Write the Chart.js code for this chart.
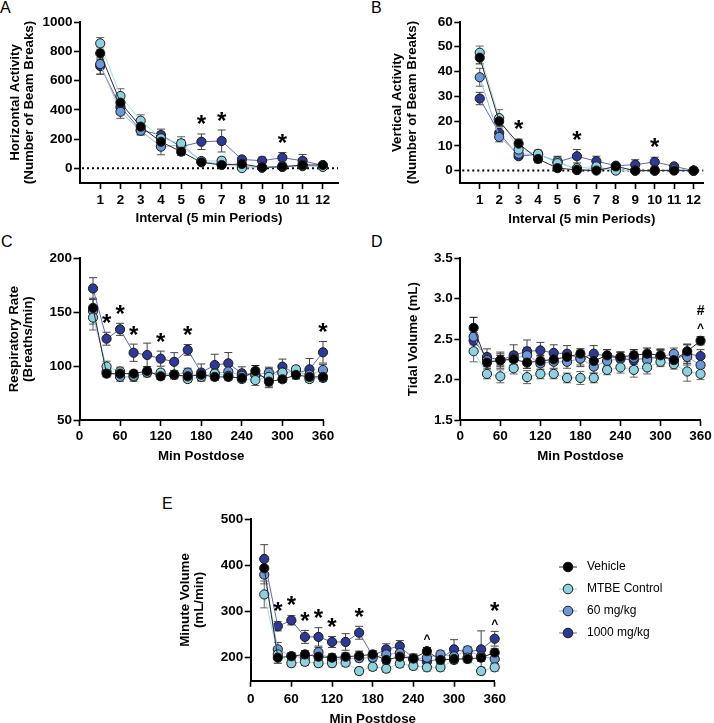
<!DOCTYPE html>
<html><head><meta charset="utf-8">
<script src="https://cdn.jsdelivr.net/npm/chart.js@4/dist/chart.umd.min.js"></script>
<style>
html,body{margin:0;padding:0;background:#fff;overflow:hidden;width:714px;height:723px;}
.pane{position:absolute;}
.letter{position:absolute;font:16px 'Liberation Sans',Arial,sans-serif;color:#000;line-height:16px;}
canvas{display:block;}
</style></head><body>
<div class="letter" style="left:0px;top:0px">A</div>
<div class="letter" style="left:371px;top:0px">B</div>
<div class="letter" style="left:1px;top:234px">C</div>
<div class="letter" style="left:371px;top:234px">D</div>
<div class="letter" style="left:162px;top:496px">E</div>
<canvas id="cA" class="pane" style="left:0;top:0" width="357" height="235"></canvas>
<canvas id="cB" class="pane" style="left:357px;top:0" width="357" height="235"></canvas>
<canvas id="cC" class="pane" style="left:0;top:235px" width="357" height="235"></canvas>
<canvas id="cD" class="pane" style="left:357px;top:235px" width="357" height="235"></canvas>
<canvas id="cE" class="pane" style="left:160px;top:470px" width="554" height="260"></canvas>
<script>
// ---------------- DATA ----------------
const groups = ['Vehicle', 'MTBE Control', '60 mg/kg', '1000 mg/kg'];
const intervals = [1, 2, 3, 4, 5, 6, 7, 8, 9, 10, 11, 12];
const minutes = [20, 40, 60, 80, 100, 120, 140, 160, 180, 200, 220, 240, 260, 280, 300, 320, 340, 360];

const intervalTicks = [1, 2, 3, 4, 5, 6, 7, 8, 9, 10, 11, 12];
const minuteTicks = [0, 60, 120, 180, 240, 300, 360];
const horizTicks = [0, 200, 400, 600, 800, 1000];
const vertTicks = [0, 10, 20, 30, 40, 50, 60];
const respTicks = [50, 100, 150, 200];
const tidalTicks = [1.5, 2.0, 2.5, 3.0, 3.5];
const minVolTicks = [200, 300, 400, 500];

// A: Horizontal activity
const horizVehicle = [786, 449, 285, 182, 114, 41, 23, 30, 7, 11, 23, 23];
const horizMTBE    = [854, 494, 326, 205, 171, 50, 52, 2, 5, 15, 20, 10];
const horiz60      = [713, 387, 257, 148, 160, 46, 30, 15, 5, 10, 15, 15];
const horiz1000    = [699, 420, 262, 228, 148, 182, 187, 61, 52, 73, 52, 20];
const horizVehicleSem = [45, 40, 30, 35, 25, 15, 10, 15, 5, 5, 10, 10];
const horizMTBESem    = [40, 50, 40, 45, 45, 20, 25, 5, 5, 10, 15, 5];
const horiz60Sem      = [70, 45, 30, 55, 35, 15, 15, 10, 5, 10, 10, 10];
const horiz1000Sem    = [55, 50, 30, 40, 45, 53, 75, 20, 25, 35, 43, 10];

// B: Vertical activity
const vertVehicle = [45.6, 19.9, 10.9, 4.7, 1, 0.3, 0, 1.7, 0, 0, 0, 0];
const vertMTBE    = [47.6, 21.2, 8.5, 6.8, 3, 1, 1.7, 0, 0, 0, 0.5, 0];
const vert60      = [37.7, 13.6, 6.8, 6.5, 3.8, 0.2, 1, 0.3, 0, 0, 0.3, 0];
const vert1000    = [29.1, 15.2, 5.8, 6.6, 3.5, 5.8, 3.8, 2, 2.4, 3.5, 1.7, 0];
const vertVehicleSem = [2.5, 1.5, 1.8, 1.5, 0.5, 0.3, 0, 0.8, 0, 0, 0, 0];
const vertMTBESem    = [2.7, 3.4, 1.8, 1.5, 1.5, 0.8, 1, 0, 0, 0, 0.5, 0];
const vert60Sem      = [3.6, 2, 1.3, 1.5, 2, 0.2, 0.8, 0.3, 0, 0, 0.3, 0];
const vert1000Sem    = [2.5, 2, 1, 1.5, 2, 2.7, 2, 0.5, 2, 1.9, 0.8, 0];

// C: Respiratory rate
const respVehicle = [154, 93, 93, 93, 95.5, 90.5, 92, 90.5, 92, 90, 90, 89, 95.5, 85.6, 87.8, 91.8, 90, 90];
const respMTBE    = [145, 99.6, 95, 91, 94, 94, 92, 88, 90, 93, 91, 88, 87, 90, 94, 97, 88, 89];
const resp60      = [151, 95, 90, 90, 94, 92, 92, 94, 91, 93, 95, 91, 92, 94, 94, 95, 92, 96.4];
const resp1000    = [172, 125.4, 134.1, 112.4, 110.3, 106.9, 104, 115, 94, 101, 102.6, 93.3, 92, 89, 99.5, 93, 97, 112.8];
const respVehicleSem = [8, 3, 3, 3, 4, 3, 3, 3, 3, 3, 3, 3, 5, 4, 3, 3, 3, 4];
const respMTBESem    = [11.5, 5, 4, 3, 3, 3, 3, 3, 3, 4, 3, 3, 5, 4, 4, 3, 3, 3];
const resp60Sem      = [12, 4, 4, 4, 4, 4, 4, 4, 4, 6, 5, 4, 5, 5, 6, 4, 5, 5];
const resp1000Sem    = [10, 6, 5.6, 8, 11, 7, 8.5, 5, 8, 10, 10, 6, 6, 9, 7, 5, 10, 10];

// D: Tidal volume
const tidalVehicle = [2.64, 2.21, 2.24, 2.25, 2.21, 2.23, 2.25, 2.28, 2.32, 2.23, 2.30, 2.28, 2.30, 2.32, 2.30, 2.24, 2.35, 2.48];
const tidalMTBE    = [2.35, 2.07, 2.04, 2.14, 2.03, 2.07, 2.07, 2.02, 2.02, 2.02, 2.12, 2.15, 2.12, 2.15, 2.22, 2.19, 2.10, 2.07];
const tidal60      = [2.53, 2.24, 2.24, 2.26, 2.30, 2.20, 2.22, 2.22, 2.26, 2.16, 2.23, 2.26, 2.27, 2.24, 2.28, 2.32, 2.28, 2.18];
const tidal1000    = [2.48, 2.28, 2.24, 2.30, 2.35, 2.36, 2.33, 2.32, 2.26, 2.32, 2.29, 2.26, 2.24, 2.27, 2.28, 2.24, 2.32, 2.29];
const tidalVehicleSem = [0.13, 0.07, 0.06, 0.07, 0.07, 0.07, 0.06, 0.07, 0.06, 0.07, 0.07, 0.06, 0.07, 0.07, 0.07, 0.06, 0.08, 0.05];
const tidalMTBESem    = [0.13, 0.06, 0.08, 0.07, 0.08, 0.06, 0.06, 0.06, 0.08, 0.06, 0.06, 0.07, 0.09, 0.08, 0.06, 0.06, 0.12, 0.07];
const tidal60Sem      = [0.10, 0.08, 0.08, 0.08, 0.10, 0.08, 0.08, 0.08, 0.08, 0.08, 0.07, 0.08, 0.08, 0.08, 0.08, 0.07, 0.10, 0.08];
const tidal1000Sem    = [0.10, 0.10, 0.10, 0.13, 0.14, 0.10, 0.10, 0.10, 0.10, 0.10, 0.08, 0.08, 0.08, 0.08, 0.10, 0.08, 0.12, 0.08];

// E: Minute volume
const mvVehicle = [394, 200, 203, 207, 202, 200, 202, 204, 207, 195, 202, 198, 214, 195, 197, 197, 200, 211];
const mvMTBE    = [337, 207, 188, 191, 188, 188, 189, 171, 180, 176, 187, 182, 179, 179, 195, 200, 171, 179];
const mv60      = [380, 218, 203, 200, 212, 196, 198, 199, 200, 207, 210, 196, 200, 207, 203, 216, 203, 197];
const mv1000    = [414, 268, 281, 245, 245, 234, 234, 254, 204, 218, 225, 198, 191, 198, 218, 212, 218, 241];
const mvVehicleSem = [15, 12, 8, 8, 8, 8, 8, 10, 8, 8, 8, 8, 8, 8, 8, 8, 8, 8];
const mvMTBESem    = [29, 10, 8, 8, 8, 8, 8, 8, 8, 8, 8, 8, 8, 8, 8, 8, 8, 8];
const mv60Sem      = [20, 15, 8, 10, 10, 8, 8, 8, 8, 10, 10, 8, 8, 8, 10, 8, 10, 10];
const mv1000Sem    = [31, 10, 10, 14, 20, 12, 18, 14, 10, 12, 12, 10, 10, 10, 21, 10, 40, 16];

// significance marks (x position, symbols stacked bottom->top)
const marksAx = [6, 7, 10];            const marksAsym = ['*', '*', '*'];
const marksBx = [3, 6, 10];            const marksBsym = ['*', '*', '*'];
const marksCx = [40, 60, 80, 120, 160, 360]; const marksCsym = ['*', '*', '*', '*', '*', '*'];
const marksDx = [360];                 const marksDsym = ['^#'];
const marksEx = [40, 60, 80, 100, 120, 160, 260, 360];
const marksEsym = ['*', '*', '*', '*', '*', '*', '^', '^*'];

// ---------------- STYLE ----------------
const FONT = "'Liberation Sans', Arial, Helvetica, sans-serif";
Chart.defaults.font.family = FONT;
Chart.defaults.color = '#000';
const palette = [
  {fill: '#000000', line: '#2a2a2a', err: '#111111'},
  {fill: '#8dd2de', line: '#a6dde7', err: '#666666'},
  {fill: '#6b98d6', line: '#9ab6e4', err: '#555555'},
  {fill: '#2d3995', line: '#5b69bd', err: '#444444'}
];

const annot = {
  id: 'annot',
  beforeDatasetsDraw(chart, args, opts) {
    const ctx = chart.ctx, a = chart.chartArea, xs = chart.scales.x, ys = chart.scales.y;
    ctx.save();
    if (opts.zeroLine) {
      const y0 = ys.getPixelForValue(0);
      ctx.strokeStyle = '#000'; ctx.lineWidth = 2; ctx.setLineDash([2, 3]);
      ctx.beginPath(); ctx.moveTo(a.left + 2, y0); ctx.lineTo(a.right, y0); ctx.stroke();
      ctx.setLineDash([]);
    }
    chart.data.datasets.forEach(ds => {
      ctx.strokeStyle = ds.errColor; ctx.lineWidth = 1;
      ds.data.forEach((p, j) => {
        const s = ds.sem[j]; if (!s) return;
        const px = xs.getPixelForValue(p.x);
        const yt = ys.getPixelForValue(p.y + s), yb = ys.getPixelForValue(p.y - s);
        ctx.beginPath();
        ctx.moveTo(px, yt); ctx.lineTo(px, yb);
        ctx.moveTo(px - 4, yt); ctx.lineTo(px + 4, yt);
        ctx.moveTo(px - 4, yb); ctx.lineTo(px + 4, yb);
        ctx.stroke();
      });
    });
    ctx.restore();
  },
  afterDatasetsDraw(chart, args, opts) {
    if (!opts.marksX) return;
    const ctx = chart.ctx, xs = chart.scales.x, ys = chart.scales.y;
    ctx.save(); ctx.fillStyle = '#000'; ctx.textAlign = 'center'; ctx.textBaseline = 'alphabetic';
    opts.marksX.forEach((xv, i) => {
      let top = Infinity;
      chart.data.datasets.forEach(ds => ds.data.forEach((p, j) => {
        if (p.x === xv) {
          top = Math.min(top, ys.getPixelForValue(p.y + (ds.sem[j] || 0)), ys.getPixelForValue(p.y) - 5.5);
        }
      }));
      let center = 0;
      [...opts.marksSym[i]].forEach((sym, k) => {
        const star = sym === '*';
        ctx.font = 'bold ' + (star ? 24 : (sym === '#' ? 14 : 12)) + 'px ' + FONT;
        if (k === 0) center = top - (star ? 14 : 9); else center -= 16;
        const m = ctx.measureText(sym);
        const base = center + (m.actualBoundingBoxAscent - m.actualBoundingBoxDescent) / 2;
        ctx.fillText(sym, xs.getPixelForValue(xv), base);
      });
    });
    ctx.restore();
  }
};

function fixedTicks(values) { return function (scale) { scale.ticks = values.map(v => ({value: v})); }; }

function buildPanel(id, p) {
  const datasets = p.series.map((vals, k) => ({
    label: groups[k],
    data: vals.map((v, j) => ({x: p.xs[j], y: v})),
    sem: p.sems[k],
    errColor: palette[k].err,
    xAxisID: 'x', yAxisID: 'y',
    borderColor: palette[k].line, borderWidth: 1,
    pointBackgroundColor: palette[k].fill, pointBorderColor: '#1a1a1a', pointBorderWidth: 1,
    pointRadius: 4.6, pointHoverRadius: 4.6, tension: 0, clip: false
  }));
  const axisCommon = {
    grid: {drawOnChartArea: false, drawTicks: true, tickLength: 6, tickWidth: 1.6, tickColor: '#000', color: '#000'},
    border: {display: true, color: '#000', width: 2}
  };
  const scales = {
    x: Object.assign({}, axisCommon, {
      type: 'linear', position: 'bottom', min: p.xMin, max: p.xMax,
      afterBuildTicks: fixedTicks(p.xTicks),
      afterFit(s) { s.height = p.H - p.area.b; },
      ticks: {font: {size: 13.5, weight: 'bold'}, color: '#000', padding: p.xTickPad, maxRotation: 0, autoSkip: false,
              callback: v => String(v)},
      title: {display: true, text: p.xTitle, color: '#000', font: {size: 13.3, weight: 'bold', lineHeight: 1.1},
              padding: {top: 0, bottom: p.xTitlePad}}
    }),
    y: Object.assign({}, axisCommon, {
      type: 'linear', position: 'left', min: p.yMin, max: p.yMax,
      afterBuildTicks: fixedTicks(p.yTicks),
      afterFit(s) { s.width = p.area.l; },
      ticks: {font: {size: 13.5, weight: 'bold'}, color: '#000', padding: 1.5, autoSkip: false,
              callback: p.fmt || (v => String(v))},
      title: {display: true, text: p.yTitle, color: '#000', font: {size: 13.3, weight: 'bold', lineHeight: 1.1},
              padding: {top: p.yTitlePad, bottom: 0}}
    })
  };
  const plugins = {
    legend: {display: false},
    tooltip: {enabled: false},
    annot: {zeroLine: !!p.zeroLine, marksX: p.marksX, marksSym: p.marksSym}
  };
  let padRight = p.W - p.area.r;
  if (p.legend) {
    const icons = palette.map(c => {
      const cv = document.createElement('canvas'); cv.width = 26; cv.height = 12;
      const g = cv.getContext('2d');
      g.strokeStyle = c.line; g.lineWidth = 1;
      g.beginPath(); g.moveTo(4, 6); g.lineTo(22, 6); g.stroke();
      g.fillStyle = c.fill; g.strokeStyle = '#1a1a1a';
      g.beginPath(); g.arc(13, 6, 4.8, 0, Math.PI * 2); g.fill(); g.stroke();
      return cv;
    });
    plugins.legend = {
      display: true, position: 'right', align: 'center', fullSize: false, maxWidth: 300,
      labels: {
        usePointStyle: true, pointStyleWidth: 26, boxHeight: 12, padding: 10, color: '#000',
        font: {size: 12, family: FONT},
        generateLabels: chart => chart.data.datasets.map((ds, i) => ({
          text: ds.label, pointStyle: icons[i], fillStyle: palette[i].fill, strokeStyle: '#000',
          lineWidth: 0, hidden: false, datasetIndex: i, fontColor: '#000'
        }))
      }
    };
    scales.yR = {
      type: 'linear', position: 'right', display: true, min: 0, max: 1,
      grid: {display: false, drawTicks: false}, border: {display: false}, ticks: {display: false},
      afterFit(s) { s.width = p.legendLeft - p.area.r; }
    };
    padRight = 20;
  }
  const chart = new Chart(document.getElementById(id), {
    type: 'line',
    data: {datasets},
    options: {
      responsive: false, animation: false, devicePixelRatio: 1, events: [],
      layout: {padding: {top: p.area.t, right: padRight, bottom: 0, left: 0}},
      scales, plugins
    },
    plugins: [annot]
  });
  if (p.legend) {
    for (let it = 0; it < 4; it++) {
      const dx = chart.legend.left - p.legendLeft;
      if (Math.abs(dx) < 0.2) break;
      chart.options.layout.padding.right = Math.max(0, chart.options.layout.padding.right + dx);
      chart.update('none');
    }
  }
  return chart;
}

buildPanel('cA', {
  W: 357, H: 235, area: {l: 80, t: 22, r: 338, b: 183},
  xs: intervals, xMin: 0, xMax: 12.75, xTicks: intervalTicks,
  yMin: -100, yMax: 1000, yTicks: horizTicks,
  series: [horizVehicle, horizMTBE, horiz60, horiz1000],
  sems: [horizVehicleSem, horizMTBESem, horiz60Sem, horiz1000Sem],
  xTitle: 'Interval (5 min Periods)', yTitle: ['Horizontal Activity', '(Number of Beam Breaks)'],
  xTitlePad: 8.9, yTitlePad: 7.7, xTickPad: 2.9, zeroLine: true,
  marksX: marksAx, marksSym: marksAsym
});
buildPanel('cB', {
  W: 357, H: 235, area: {l: 103.3, t: 22, r: 346.3, b: 183},
  xs: intervals, xMin: 0, xMax: 12.5, xTicks: intervalTicks,
  yMin: -5, yMax: 60, yTicks: vertTicks,
  series: [vertVehicle, vertMTBE, vert60, vert1000],
  sems: [vertVehicleSem, vertMTBESem, vert60Sem, vert1000Sem],
  xTitle: 'Interval (5 min Periods)', yTitle: ['Vertical Activity', '(Number of Beam Breaks)'],
  xTitlePad: 8, yTitlePad: 33.4, xTickPad: 3.4, zeroLine: true,
  marksX: marksBx, marksSym: marksBsym
});
buildPanel('cC', {
  W: 357, H: 235, area: {l: 79.5, t: 23.3, r: 323, b: 185},
  xs: minutes, xMin: 0, xMax: 360, xTicks: minuteTicks,
  yMin: 50, yMax: 200, yTicks: respTicks,
  series: [respVehicle, respMTBE, resp60, resp1000],
  sems: [respVehicleSem, respMTBESem, resp60Sem, resp1000Sem],
  xTitle: 'Min Postdose', yTitle: ['Respiratory Rate', '(Breaths/min)'],
  xTitlePad: 6.4, yTitlePad: 6.7, xTickPad: 1.7,
  marksX: marksCx, marksSym: marksCsym
});
buildPanel('cD', {
  W: 357, H: 235, area: {l: 103.3, t: 23.3, r: 346.3, b: 185},
  xs: minutes, xMin: 0, xMax: 360, xTicks: minuteTicks,
  yMin: 1.5, yMax: 3.5, yTicks: tidalTicks, fmt: v => Number(v).toFixed(1),
  series: [tidalVehicle, tidalMTBE, tidal60, tidal1000],
  sems: [tidalVehicleSem, tidalMTBESem, tidal60Sem, tidal1000Sem],
  xTitle: 'Min Postdose', yTitle: 'Tidal Volume (mL)',
  xTitlePad: 6.4, yTitlePad: 48.7, xTickPad: 2.2,
  marksX: marksDx, marksSym: marksDsym
});
buildPanel('cE', {
  W: 554, H: 260, area: {l: 90.7, t: 49.3, r: 334.7, b: 210.7},
  xs: minutes, xMin: 0, xMax: 360, xTicks: minuteTicks,
  yMin: 150, yMax: 500, yTicks: minVolTicks,
  series: [mvVehicle, mvMTBE, mv60, mv1000],
  sems: [mvVehicleSem, mvMTBESem, mv60Sem, mv1000Sem],
  xTitle: 'Min Postdose', yTitle: ['Minute Volume', '(mL/min)'],
  xTitlePad: 3.5, yTitlePad: 17.7, xTickPad: 4,
  marksX: marksEx, marksSym: marksEsym,
  legend: true, legendLeft: 385
});
</script>
</body></html>
